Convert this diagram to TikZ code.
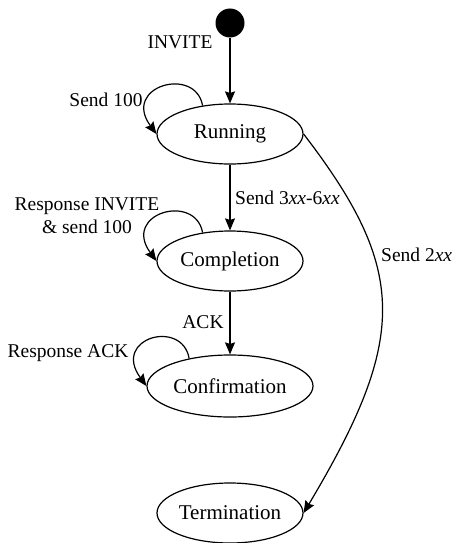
\documentclass[tikz,border=0pt]{standalone}
\usepackage{fontspec}
\setmainfont{Liberation Serif}
\usetikzlibrary{shapes.geometric,arrows.meta}
\begin{document}
\begin{tikzpicture}[x=1pt,y=-1pt,
  state/.style={draw,ellipse,line width=1.2pt,inner sep=0pt,
    minimum width=146pt,minimum height=60pt,font=\fontsize{21}{25}\selectfont},
  lbl/.style={inner sep=0pt,font=\fontsize{19.5}{23}\selectfont},
  arr/.style={line width=1.2pt,-{Stealth[length=12pt,width=10pt,inset=1.5pt]}}]
\useasboundingbox (0,0) rectangle (454,543);

% states
\node[circle,fill=black,minimum size=29pt,inner sep=0pt] (init) at (230,23) {};
\node[state] (run)  at (230,134) {Running};
\node[state] (comp) at (230,261) {Completion};
\node[state,minimum width=166pt,minimum height=62pt] (conf) at (230,386) {Confirmation};
\node[state] (term) at (230,513) {Termination};

% transitions
\draw[arr] (init) -- (run);
\draw[arr] (run) -- (comp);
\draw[arr] (comp) -- (conf);
\draw[arr] (run.east) .. controls (408,270) and (408,338) .. (term.east);

% self loops
\draw[arr] (run.134) .. controls +(-7,-40) and +(-35,-48) .. (run.west);
\draw[arr] (comp.134) .. controls +(-7,-40) and +(-35,-48) .. (comp.west);
\draw[arr] (conf.146) .. controls +(-7,-40) and +(-35,-48) .. (conf.west);

% labels
\node[lbl] (linvite) at (180,42) {INVITE};
\node[lbl] (lsend100) at (106,100) {Send 100};
\node[lbl,anchor=west] (lsend36) at (235,198) {Send 3\textit{xx}-6\textit{xx}};
\node[lbl,align=center] (lresp) at (87,216) {Response INVITE\\\& send 100};
\node[lbl] (lack) at (203,322) {ACK};
\node[lbl] (lrack) at (68,353) {Response ACK};
\node[lbl,anchor=west] (lsend2) at (381,255) {Send 2\textit{xx}};
\end{tikzpicture}
\end{document}
